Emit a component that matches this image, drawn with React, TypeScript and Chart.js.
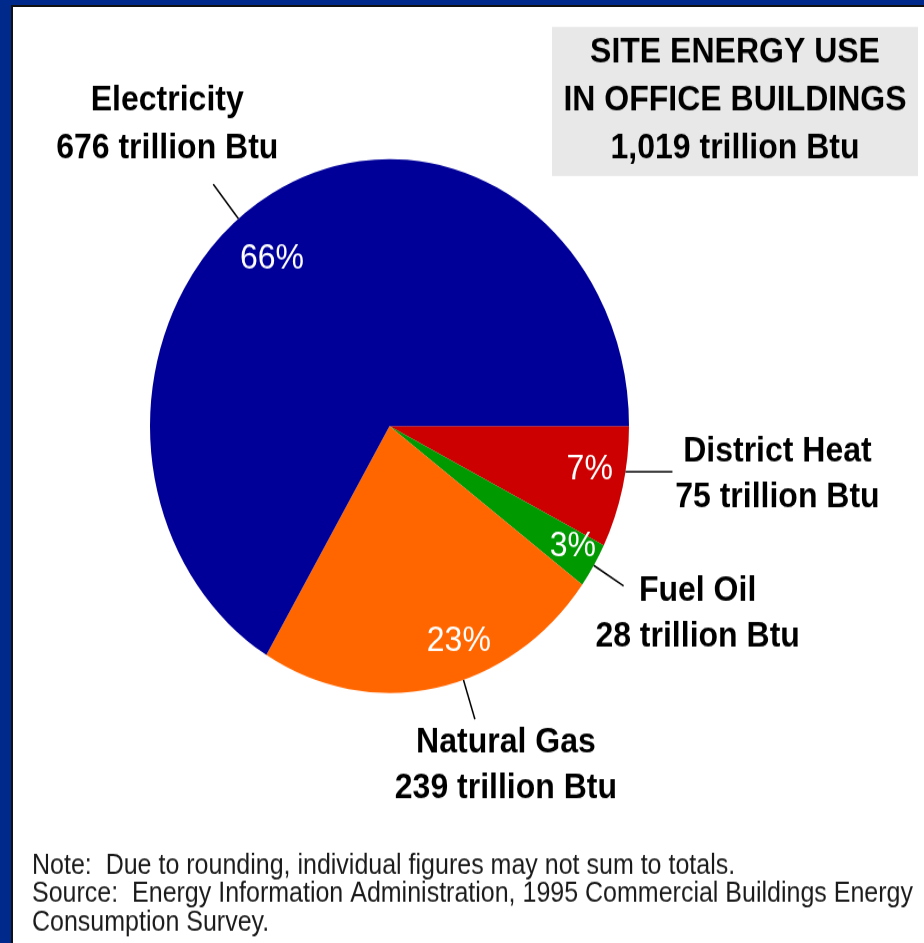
import React, { useEffect, useRef } from "react";
import { Chart, registerables } from "chart.js";

Chart.register(...registerables);

// ---- data ----
const categories = ["District Heat", "Fuel Oil", "Natural Gas", "Electricity"];
const values = [75, 28, 239, 676];
const unit = "trillion Btu";
const colors = ["#CC0000", "#009900", "#FF6600", "#000099"];
const titleLines = ["SITE ENERGY USE", "IN OFFICE BUILDINGS", "1,019 trillion Btu"];
const noteLines = [
  "Note:  Due to rounding, individual figures may not sum to totals.",
  "Source:  Energy Information Administration, 1995 Commercial Buildings Energy",
  "Consumption Survey.",
];

// ---- annotation layout (per slice, same order as categories) ----
const labelLayout = [
  { frac: 0.373, pctFrac: 0.419, pctR: 0.852, leader: "h", len: 47, dx: 105, dy: [-17.9, 22.5] },
  { frac: 0.5, pctFrac: 0.41, pctR: 0.889, leader: "r", len: 35, dx: 74, dy: [4.7, 46] },
  { frac: 0.421, pctFrac: 0.4, pctR: 0.856, leader: "r", len: 37, dx: 31, dy: [21.4, 61.8] },
  { frac: 0.46, pctFrac: 0.464, pctR: 0.795, leader: "r", len: 40, dx: -46, dy: [-74.7, -32.5] },
];

const W = 924;
const H = 846;
const SCALE_Y = 943 / H;
const FONT = "'Liberation Sans', Arial, Helvetica, sans-serif";

const annotate = {
  id: "annotate",
  afterDatasetsDraw(chart: any) {
    const ctx: CanvasRenderingContext2D = chart.ctx;
    const meta = chart.getDatasetMeta(0);
    const total = values.reduce((a, b) => a + b, 0);
    ctx.save();
    meta.data.forEach((arc: any, i: number) => {
      const { x, y, startAngle, endAngle, outerRadius } = arc.getProps(
        ["x", "y", "startAngle", "endAngle", "outerRadius"],
        true
      );
      const L = labelLayout[i];
      // percentage inside slice
      const pa = startAngle + L.pctFrac * (endAngle - startAngle);
      const pr = outerRadius * L.pctR;
      ctx.fillStyle = "#ffffff";
      ctx.font = `normal 32px ${FONT}`;
      ctx.textAlign = "center";
      ctx.textBaseline = "middle";
      ctx.fillText(
        Math.round((values[i] / total) * 100) + "%",
        x + pr * Math.cos(pa),
        y + pr * Math.sin(pa)
      );
      // leader line
      const a = startAngle + L.frac * (endAngle - startAngle);
      const sx = x + outerRadius * Math.cos(a);
      const sy = y + outerRadius * Math.sin(a);
      let ex: number, ey: number;
      if (L.leader === "h") {
        ex = sx + L.len;
        ey = sy;
      } else {
        ex = x + (outerRadius + L.len) * Math.cos(a);
        ey = y + (outerRadius + L.len) * Math.sin(a);
      }
      ctx.strokeStyle = "#000000";
      ctx.lineWidth = 1.5;
      ctx.beginPath();
      ctx.moveTo(sx, sy);
      ctx.lineTo(ex, ey);
      ctx.stroke();
      // outside label
      ctx.fillStyle = "#000000";
      ctx.font = `bold 32px ${FONT}`;
      ctx.fillText(categories[i], ex + L.dx, ey + L.dy[0]);
      ctx.fillText(`${values[i]} ${unit}`, ex + L.dx, ey + L.dy[1]);
    });

    // title box
    ctx.fillStyle = "#E8E8E8";
    ctx.fillRect(552, 24.2, 366, 133.7);
    ctx.fillStyle = "#000000";
    ctx.font = `bold 32px ${FONT}`;
    ctx.textAlign = "center";
    ctx.textBaseline = "middle";
    const tY = [47.5, 90.6, 132.8];
    titleLines.forEach((t, k) => ctx.fillText(t, 735, tY[k]));

    // notes
    ctx.fillStyle = "#1a1a1a";
    ctx.font = `normal 25px ${FONT}`;
    ctx.textAlign = "left";
    ctx.textBaseline = "alphabetic";
    noteLines.forEach((t, k) => ctx.fillText(t, 32, 783.5 + k * 25.6));
    ctx.restore();
  },
};

export default function App() {
  const ref = useRef<HTMLCanvasElement>(null);
  useEffect(() => {
    if (!ref.current) return;
    const chart = new Chart(ref.current, {
      type: "pie",
      data: {
        labels: categories,
        datasets: [
          {
            data: values,
            backgroundColor: colors,
            borderWidth: 0,
            hoverOffset: 0,
          },
        ],
      },
      options: {
        animation: false,
        responsive: false,
        devicePixelRatio: 1,
        rotation: 90,
        layout: { padding: { left: 150, right: 295, top: 142.7, bottom: 224.3 } },
        plugins: {
          legend: { display: false },
          tooltip: { enabled: false },
          title: { display: false },
        },
        events: [],
      },
      plugins: [annotate],
    });
    return () => chart.destroy();
  }, []);

  return (
    <div
      style={{
        position: "fixed",
        left: 0,
        top: 0,
        width: 924,
        height: 943,
        background: "#00298c",
        overflow: "hidden",
      }}
    >
      <div style={{ position: "absolute", left: 11, top: 5, right: 0, bottom: 0, background: "#111" }}>
        <div style={{ position: "absolute", left: 2, top: 2, right: 0, bottom: 0, background: "#fff" }} />
      </div>
      <div
        style={{
          position: "absolute",
          left: 0,
          top: 0,
          width: W,
          height: H,
          transform: `scaleY(${SCALE_Y})`,
          transformOrigin: "0 0",
        }}
      >
        <canvas ref={ref} width={W} height={H} style={{ display: "block", width: W, height: H }} />
      </div>
    </div>
  );
}
